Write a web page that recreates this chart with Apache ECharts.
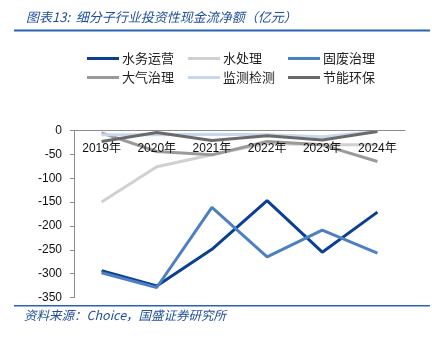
<!DOCTYPE html>
<html><head><meta charset="utf-8">
<script src="https://cdn.jsdelivr.net/npm/echarts@6/dist/echarts.min.js"></script>
<style>html,body{margin:0;padding:0;background:#fff}#c{width:432px;height:338px}</style>
</head><body><div id="c"></div>
<script>
const categories = ['2019年','2020年','2021年','2022年','2023年','2024年'];
const seriesNames = ['水务运营','水处理','固废治理','大气治理','监测检测','节能环保'];
const waterOps   = [-294, -326, -249, -147, -255, -171];
const waterTreat = [-150, -76, -51, -27, -30, -30];
const solidWaste = [-298, -329, -161, -265, -209, -257];
const airControl = [-5, -44, -51, -23, -30, -65];
const monitoring = [-9, -9, -8, -9, -13, -2];
const energySave = [-23, -4, -21, -11, -20, -2];
const yTicks = [0, -50, -100, -150, -200, -250, -300, -350];

const colors = ['#0a3f92', '#d0d0d0', '#4d80c0', '#9a9a9a', '#c6d7ee', '#6a6a6a'];
const values = [waterOps, waterTreat, solidWaste, airControl, monitoring, energySave];

const chart = echarts.init(document.getElementById('c'));
const font = '"Liberation Sans", "Noto Sans CJK SC", sans-serif';
const cjk = '"Noto Sans CJK SC", sans-serif';

const legendPos = [[82,47],[183,47],[283,47],[82,66],[183,66],[283,66]];
const legends = seriesNames.map((n,i)=>({
  data:[n], left:legendPos[i][0], top:legendPos[i][1],
  icon:'rect', itemWidth:32, itemHeight:3, itemGap:0,
  textStyle:{fontSize:13, color:'#222', fontFamily:cjk, padding:[0,0,0,-2]},
  selectedMode:false
}));

chart.setOption({
  animation:false,
  color:colors,
  title:{
    text:'图表13:  细分子行业投资性现金流净额（亿元）',
    left:21, top:6,
    textStyle:{fontSize:13, fontStyle:'italic', fontWeight:'normal', color:'#1f4e9a', fontFamily:cjk}
  },
  legend:legends,
  grid:{left:74, right:27, top:130.5, height:167},
  xAxis:{
    type:'category', data:categories, boundaryGap:true, position:'top', z:10,
    axisLine:{onZero:false, lineStyle:{color:'#8c8c8c', width:1}},
    axisTick:{inside:false, length:5, lineStyle:{color:'#8c8c8c'}},
    axisLabel:{inside:true, fontSize:12, color:'#111', fontFamily:font, margin:12}
  },
  yAxis:{
    type:'value', min:-350, max:0, interval:50,
    axisLine:{show:true, lineStyle:{color:'#8c8c8c'}},
    axisTick:{show:true, length:4, lineStyle:{color:'#8c8c8c'}},
    splitLine:{show:false},
    axisLabel:{fontSize:12, color:'#111', fontFamily:font, margin:12,
      formatter:v=>yTicks.includes(v)?String(v):''}
  },
  series:seriesNames.map((n,i)=>({
    name:n, type:'line', data:values[i], symbol:'none',
    lineStyle:{width:3, color:colors[i]}, itemStyle:{color:colors[i]}
  })),
  graphic:[
    {type:'rect', shape:{x:14, y:29.5, width:416, height:2}, style:{fill:'#2a62b3'}},
    {type:'rect', shape:{x:14, y:305, width:416, height:1.5}, style:{fill:'#2a62b3'}},
    {type:'text', left:24, top:309, style:{text:'资料来源：Choice，国盛证券研究所',
      fontSize:12.5, fontStyle:'italic', fill:'#1f4e9a', fontFamily:cjk}}
  ]
});
</script></body></html>
